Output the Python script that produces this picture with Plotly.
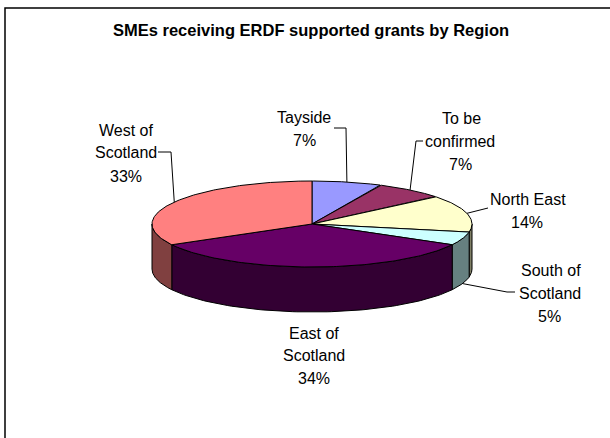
import numpy as np
import plotly.graph_objects as go

# ---- data ----
regions = ["Tayside", "To be confirmed", "North East", "South of Scotland",
           "East of Scotland", "West of Scotland"]
shares = [7, 7, 14, 5, 34, 33]
label_lines = [["Tayside", "7%"], ["To be", "confirmed", "7%"], ["North East", "14%"],
               ["South of", "Scotland", "5%"], ["East of", "Scotland", "34%"],
               ["West of", "Scotland", "33%"]]
top_colors = ["#9999FF", "#993366", "#FFFFCC", "#CCFFFF", "#660066", "#FF8080"]
side_colors = ["#4D4D80", "#4D1A33", "#808066", "#668080", "#330033", "#804040"]

# ---- layout / geometry (pixels) ----
W, H = 610, 438
CX, CY, RX, RY, DEPTH = 312, 224, 160, 43, 45
FONT = "Liberation Sans, Arial, sans-serif"

# label line centres (layout positions)
label_pos = [
    [(304, 117), (304, 140)],
    [(461, 118), (460, 141), (460, 164)],
    [(528, 199), (527, 222)],
    [(551, 270), (550, 293), (549, 316)],
    [(314, 333), (314, 355), (314, 378)],
    [(126, 130), (126, 152), (126, 176)],
]
# leader line bends / ends (None -> no leader)
leader_pts = [
    [(346, 128), (334, 128)],
    [(416, 141), (423, 141)],
    [(488, 208)],
    [(507, 292), (515, 292)],
    None,
    [(171, 152), (158, 152)],
]

def pt(theta_deg, dy=0.0):
    t = np.radians(theta_deg)
    return CX + RX * np.sin(t), CY - RY * np.cos(t) + dy

fig = go.Figure()
total = float(sum(shares))
starts = np.concatenate([[0], np.cumsum(shares)[:-1]]) / total * 360
ends = np.cumsum(shares) / total * 360

# side walls (front half, 90..270 degrees)
for s, e, col in zip(starts, ends, side_colors):
    a, b = max(s, 90), min(e, 270)
    if b <= a:
        continue
    th = np.linspace(a, b, 80)
    xt, yt = pt(th)
    xb, yb = pt(th[::-1], DEPTH)
    fig.add_trace(go.Scatter(x=np.concatenate([xt, xb, xt[:1]]),
                             y=np.concatenate([yt, yb, yt[:1]]),
                             fill="toself", fillcolor=col, mode="lines",
                             line=dict(color="black", width=1),
                             hoverinfo="skip", showlegend=False))

# top faces
for s, e, col, name, v in zip(starts, ends, top_colors, regions, shares):
    th = np.linspace(s, e, 120)
    xa, ya = pt(th)
    fig.add_trace(go.Scatter(x=np.concatenate([[CX], xa, [CX]]),
                             y=np.concatenate([[CY], ya, [CY]]),
                             fill="toself", fillcolor=col, mode="lines",
                             line=dict(color="black", width=1),
                             name=name, text=f"{name}: {v}%",
                             hoverinfo="text", showlegend=False))

# leader lines (anchored at slice mid-angle)
for s, e, pts in zip(starts, ends, leader_pts):
    if pts is None:
        continue
    mid = (s + e) / 2
    ax, ay = pt(mid, DEPTH if np.cos(np.radians(mid)) < 0 else 0)
    xs = [ax] + [p[0] for p in pts]
    ys = [ay] + [p[1] for p in pts]
    fig.add_trace(go.Scatter(x=xs, y=ys, mode="lines",
                             line=dict(color="black", width=1),
                             hoverinfo="skip", showlegend=False))

# labels
annotations = []
for lines, poss in zip(label_lines, label_pos):
    for txt, (lx, ly) in zip(lines, poss):
        annotations.append(dict(x=lx, y=ly, xref="x", yref="y", text=txt,
                                showarrow=False, xanchor="center", yanchor="middle",
                                font=dict(family=FONT, size=16, color="black")))
annotations.append(dict(x=311, y=30, xref="x", yref="y",
                        text="<b>SMEs receiving ERDF supported grants by Region</b>",
                        showarrow=False, xanchor="center", yanchor="middle",
                        font=dict(family=FONT, size=16.5, color="black")))

fig.update_layout(
    width=W, height=H, margin=dict(l=0, r=0, t=0, b=0),
    paper_bgcolor="white", plot_bgcolor="white",
    xaxis=dict(range=[0, W], visible=False, fixedrange=True),
    yaxis=dict(range=[H, 0], visible=False, fixedrange=True),
    annotations=annotations,
    shapes=[dict(type="rect", xref="x", yref="y", x0=5, y0=8, x1=W + 20, y1=H + 20,
                 line=dict(color="black", width=1.5), fillcolor="rgba(0,0,0,0)",
                 layer="below")],
)

fig.write_html("out.html")
